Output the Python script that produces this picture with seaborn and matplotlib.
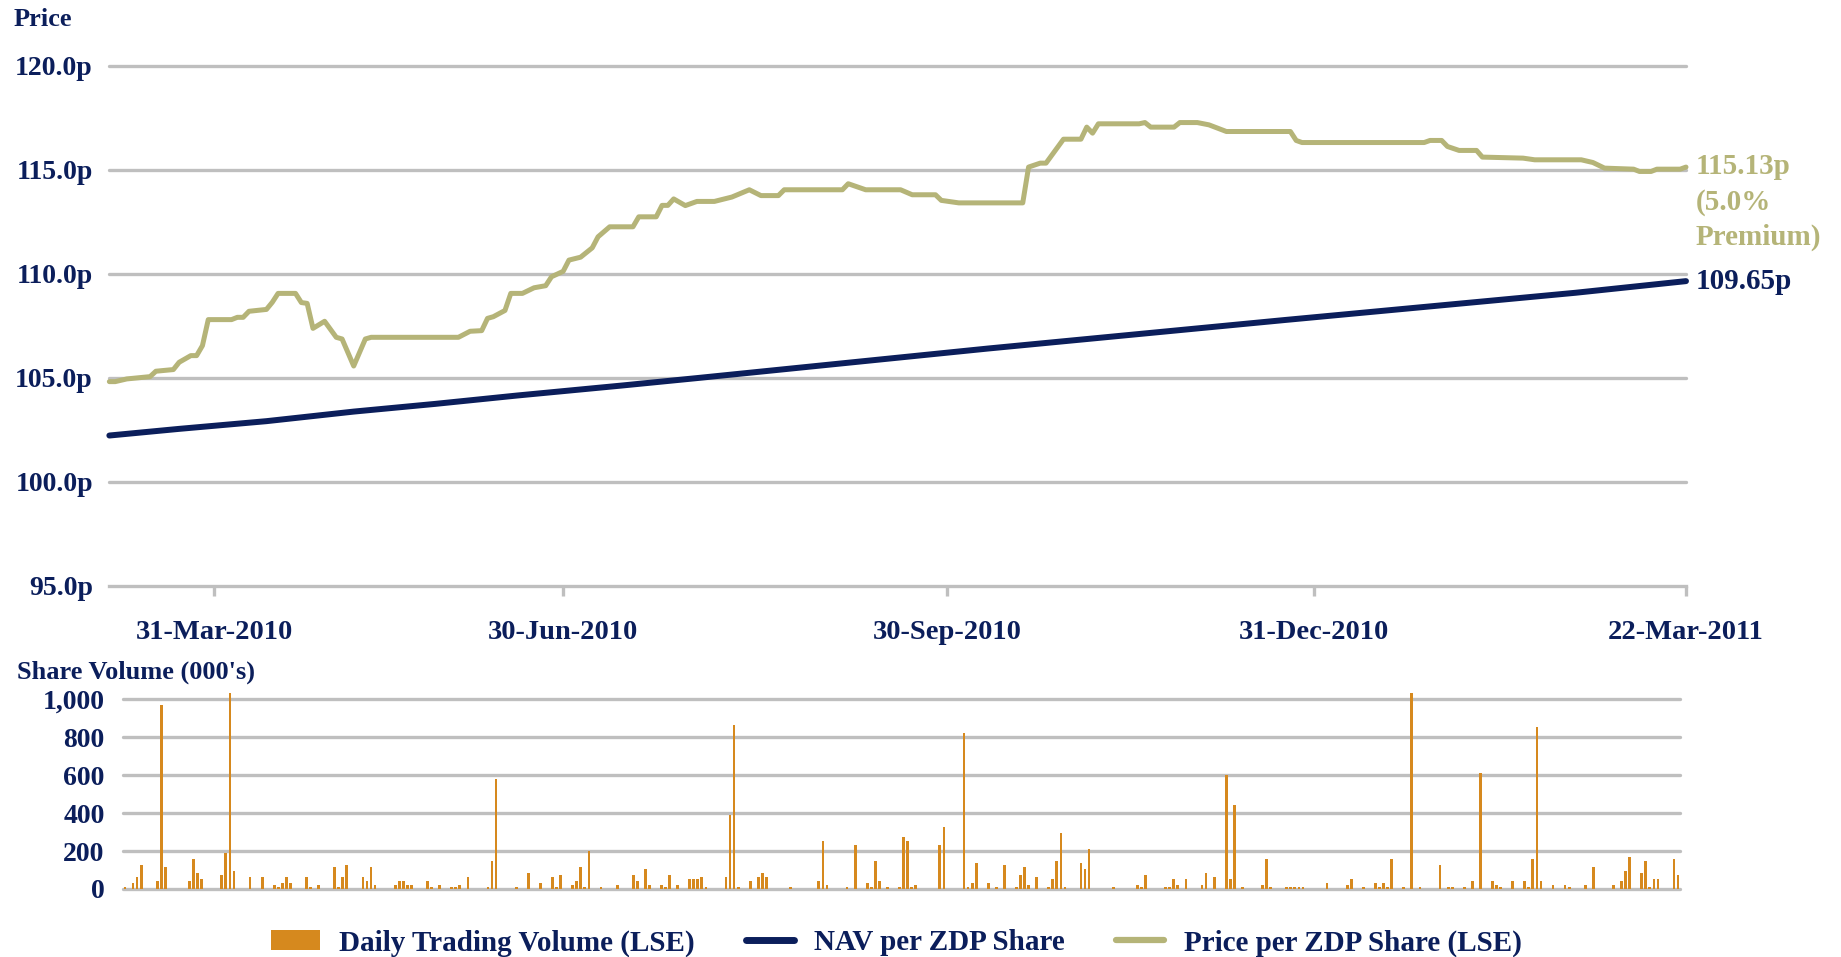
import numpy as np
import pandas as pd
import matplotlib
matplotlib.use("Agg")
import matplotlib.pyplot as plt
import seaborn as sns
from matplotlib.lines import Line2D
from matplotlib.patches import Patch

# ---------------- data ----------------
# trading-day index (0 = first day shown) and ZDP share price (pence)
PRICE_DAY = [0, 1, 3, 7, 8, 11, 12, 14, 15, 16, 17, 21, 22, 23, 24, 27, 28, 29, 32, 33, 34,
             35, 37, 39, 40, 42, 44, 45, 60, 62, 64, 65, 66, 68, 69, 71, 73, 75, 76, 78, 79,
             81, 83, 84, 86, 90, 91, 94, 95, 96, 97, 99, 101, 104, 107, 110, 112, 115, 116,
             126, 127, 130, 136, 138, 142, 143, 146, 157, 158, 160, 161, 164, 167, 168, 169,
             170, 177, 178, 179, 183, 184, 187, 189, 192, 203, 204, 205, 226, 227, 229, 230,
             232, 235, 236, 243, 245, 253, 255, 257, 262, 263, 265, 266, 270, 271]
PRICE_P = [104.82, 104.82, 104.95, 105.06, 105.32, 105.40, 105.75, 106.07, 106.07, 106.55,
           107.80, 107.80, 107.91, 107.91, 108.20, 108.29, 108.63, 109.06, 109.06, 108.62,
           108.58, 107.38, 107.72, 106.95, 106.87, 105.57, 106.87, 106.95, 106.95, 107.24,
           107.27, 107.86, 107.94, 108.24, 109.06, 109.06, 109.33, 109.43, 109.86, 110.12,
           110.66, 110.80, 111.25, 111.78, 112.26, 112.26, 112.74, 112.74, 113.29, 113.29,
           113.60, 113.28, 113.48, 113.48, 113.69, 114.04, 113.76, 113.76, 114.04,
           114.04, 114.33, 114.04, 114.04, 113.80, 113.80, 113.53, 113.41, 113.41, 115.13,
           115.32, 115.32, 116.47, 116.47, 117.05, 116.76, 117.21, 117.21, 117.27, 117.05,
           117.05, 117.27, 117.27, 117.16, 116.84, 116.84, 116.41, 116.31, 116.31, 116.41,
           116.41, 116.12, 115.93, 115.93, 115.61, 115.56, 115.48, 115.48, 115.35, 115.08,
           115.03, 114.92, 114.92, 115.03, 115.03, 115.13]

# NAV per ZDP share (pence)
NAV_DAY = [0, 12, 27, 42, 56, 70, 88, 101, 151, 202, 252, 271]
NAV_P = [102.23, 102.55, 102.92, 103.38, 103.75, 104.15, 104.63, 104.99, 106.41, 107.78,
         109.09, 109.65]

TICK_DAY = [18, 78, 144, 207, 271]
TICK_LABELS = ["31-Mar-2010", "30-Jun-2010", "30-Sep-2010", "31-Dec-2010", "22-Mar-2011"]
PRICE_TICKS = [95, 100, 105, 110, 115, 120]

# daily trading volume (000's) by calendar-day slot
N_VOL_DAYS = 386
VOL_DAY = [0, 2, 3, 4, 8, 9, 10, 16, 17, 18, 19, 24, 25, 26, 27, 31, 34, 37, 38, 39, 40, 41,
           45, 46, 48, 52, 53, 54, 55, 59, 60, 61, 62, 67, 68, 69, 70, 71, 75, 76, 78, 81, 82,
           83, 85, 90, 91, 92, 97, 100, 103, 106, 107, 108, 111, 112, 113, 114, 115, 118, 122,
           126, 127, 129, 130, 133, 134, 135, 137, 140, 141, 142, 143, 144, 149, 150, 151, 152,
           155, 157, 158, 159, 165, 172, 173, 174, 179, 181, 184, 185, 186, 187, 189, 192, 193,
           194, 195, 196, 202, 203, 208, 209, 210, 211, 214, 216, 218, 221, 222, 223, 224, 226,
           229, 230, 231, 232, 233, 237, 238, 239, 245, 251, 252, 253, 258, 259, 260, 261, 263,
           267, 268, 270, 273, 274, 275, 277, 282, 283, 284, 288, 289, 290, 291, 292, 298, 303,
           304, 307, 310, 311, 312, 313, 314, 317, 319, 321, 326, 328, 329, 332, 334, 336, 339,
           340, 341, 344, 347, 348, 349, 350, 351, 354, 357, 358, 362, 364, 369, 371, 372, 373,
           376, 377, 378, 379, 380, 384, 385]
VOL_K = [10, 32, 63, 127, 42, 970, 116, 42, 158, 84, 53, 74, 190, 1033, 95, 63, 63, 21, 10, 32,
         63, 32, 63, 10, 21, 116, 10, 63, 127, 63, 42, 116, 21, 21, 42, 42, 21, 21, 42, 10, 21,
         10, 10, 21, 63, 10, 148, 580, 10, 84, 32, 63, 10, 74, 21, 42, 116, 10, 200, 10, 21,
         74, 42, 105, 21, 21, 10, 74, 21, 53, 53, 53, 63, 10, 63, 390, 865, 10,
         42, 63, 84, 63, 10, 42, 253, 21, 10, 232, 32, 10, 148, 42, 10, 10, 274,
         253, 10, 21, 232, 327, 822, 10, 32, 137, 32, 10, 127, 10, 74, 116, 21, 63,
         10, 53, 148, 295, 10, 137, 105, 211, 10, 21, 10, 74, 10, 10, 53, 21, 53,
         21, 84, 63, 601, 53, 443, 10, 21, 158, 10, 10, 10, 10, 10, 10, 32, 21,
         53, 10, 32, 10, 32, 10, 158, 10, 1033, 10, 127, 10, 10, 10, 42, 612, 42,
         21, 10, 42, 42, 10, 158, 854, 42, 21, 21, 10, 21, 116, 21, 42, 95, 169,
         84, 148, 10, 53, 53, 158, 74]
VOL_TICKS = [0, 200, 400, 600, 800, 1000]

# ---------------- style ----------------
sns.set_theme(style="white")
plt.rcParams["font.family"] = ["Liberation Serif", "DejaVu Serif"]
plt.rcParams["font.weight"] = "bold"

NAVY = "#0B1E5B"
KHAKI = "#B5B478"
ORANGE = "#D6891E"
GRID = "#BFBFBF"
GRID_LW = 2.4

fig = plt.figure(figsize=(18.41, 9.57), dpi=100)
ax1 = fig.add_axes([0.0594, 0.3877, 0.8564, 0.5436])
ax2 = fig.add_axes([0.0668, 0.0711, 0.8458, 0.2061])

# ---------------- price panel ----------------
nav_df = pd.DataFrame({"day": NAV_DAY, "p": NAV_P})
price_df = pd.DataFrame({"day": PRICE_DAY, "p": PRICE_P})
sns.lineplot(data=nav_df, x="day", y="p", ax=ax1, color=NAVY, lw=4.3, sort=False,
             clip_on=False, zorder=3)
sns.lineplot(data=price_df, x="day", y="p", ax=ax1, color=KHAKI, lw=3.6, sort=False,
             clip_on=False, zorder=3)

ax1.set_xlim(0, PRICE_DAY[-1])
ax1.set_ylim(PRICE_TICKS[0], PRICE_TICKS[-1])
for v in PRICE_TICKS[1:]:
    ax1.axhline(v, color=GRID, lw=GRID_LW, zorder=0, clip_on=False)
for s in ["left", "right", "top"]:
    ax1.spines[s].set_visible(False)
ax1.spines["bottom"].set_color(GRID)
ax1.spines["bottom"].set_linewidth(GRID_LW)
ax1.set_xticks(TICK_DAY, TICK_LABELS)
ax1.set_yticks(PRICE_TICKS, [f"{v:.1f}p" for v in PRICE_TICKS])
ax1.tick_params(axis="x", direction="out", length=7.2, width=GRID_LW, color=GRID,
                labelsize=20.5, labelcolor=NAVY, pad=17, bottom=True)
ax1.tick_params(axis="y", length=0, labelsize=20, labelcolor=NAVY, pad=11.8)
ax1.set_xlabel("")
ax1.set_ylabel("")

premium = (PRICE_P[-1] / NAV_P[-1] - 1) * 100
ax1.annotate(f"{NAV_P[-1]:.2f}p", xy=(NAV_DAY[-1], NAV_P[-1]), xytext=(7, 0),
             textcoords="offset points", ha="left", va="center", color=NAVY,
             fontsize=21, fontweight="bold", annotation_clip=False)
ax1.annotate(f"{PRICE_P[-1]:.2f}p\n({premium:.1f}%\nPremium)",
             xy=(PRICE_DAY[-1], PRICE_P[-1]), xytext=(7, 10),
             textcoords="offset points", ha="left", va="top", color=KHAKI,
             fontsize=21, fontweight="bold", linespacing=1.38, annotation_clip=False)

fig.text(13.4 / 1841, 1 - 19 / 957, "Price", ha="left", va="center", color=NAVY,
         fontsize=19, fontweight="bold")

# ---------------- volume panel ----------------
vol = np.zeros(N_VOL_DAYS)
vol[VOL_DAY] = VOL_K
vol_df = pd.DataFrame({"day": np.arange(N_VOL_DAYS), "vol": vol})
sns.barplot(data=vol_df, x="day", y="vol", ax=ax2, native_scale=True, color=ORANGE,
            saturation=1, width=0.68, errorbar=None, linewidth=0, zorder=3)
ax2.set_xlim(-0.5, N_VOL_DAYS - 0.5)
ax2.set_ylim(0, 1040)
for v in VOL_TICKS:
    ax2.axhline(v, color=GRID, lw=GRID_LW, zorder=0, clip_on=False)
for s in ax2.spines.values():
    s.set_visible(False)
ax2.set_xticks([])
ax2.set_yticks(VOL_TICKS, [f"{v:,}" for v in VOL_TICKS])
ax2.tick_params(axis="y", length=0, labelsize=20, labelcolor=NAVY, pad=13.3)
ax2.set_xlabel("")
ax2.set_ylabel("")

fig.text(16.7 / 1841, 1 - 672.7 / 957, "Share Volume (000's)", ha="left", va="center",
         color=NAVY, fontsize=19, fontweight="bold")

# ---------------- legend ----------------
handles = [Patch(facecolor=ORANGE, edgecolor="none"),
           Line2D([], [], color=NAVY, lw=5),
           Line2D([], [], color=KHAKI, lw=4.5)]
labels = ["Daily Trading Volume (LSE)", "NAV per ZDP Share", "Price per ZDP Share (LSE)"]
fig.legend(handles, labels, ncol=3, loc="center", bbox_to_anchor=(0.487, 0.0145),
           frameon=False, prop={"size": 21, "weight": "bold"}, labelcolor=NAVY,
           handlelength=1.65, handletextpad=0.68, columnspacing=1.75, borderpad=0)

fig.savefig("out.png", dpi=100)
